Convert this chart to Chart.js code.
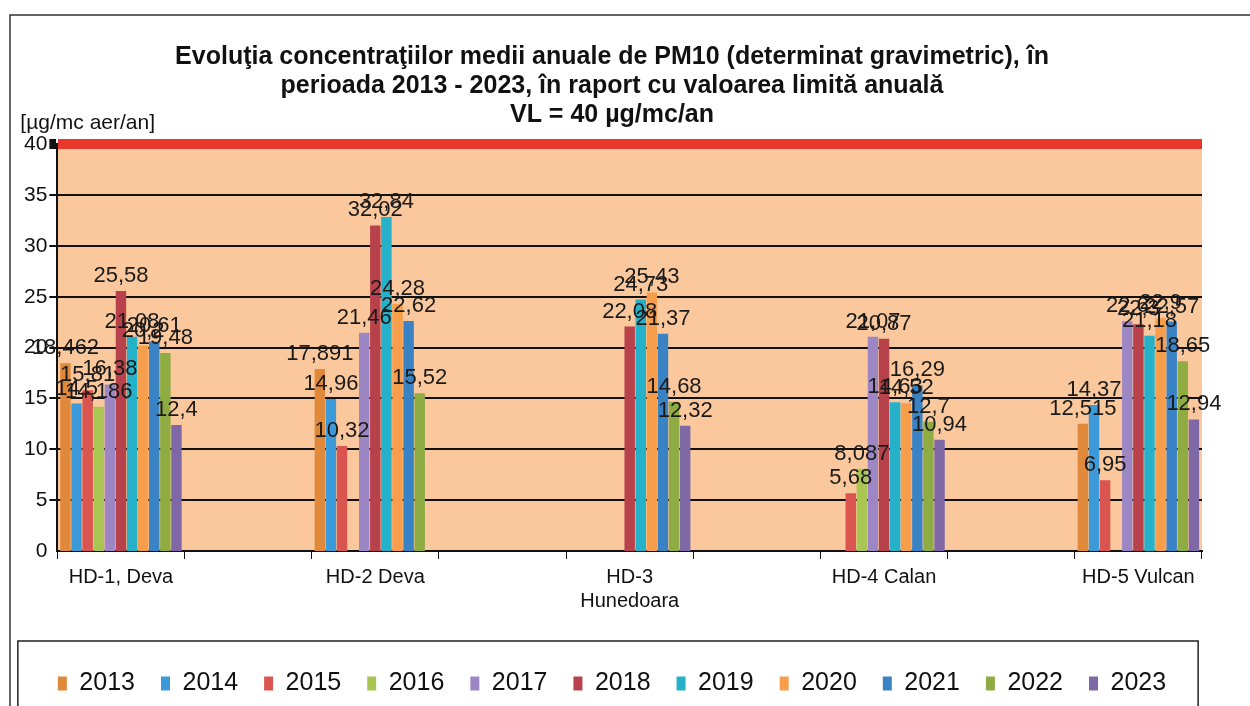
<!DOCTYPE html>
<html>
<head>
<meta charset="utf-8">
<script src="https://cdn.jsdelivr.net/npm/chart.js@4.4.1/dist/chart.umd.min.js"></script>
<style>
  html, body { margin: 0; padding: 0; background: #fff; }
  #wrap { width: 1250px; height: 706px; }
</style>
</head>
<body>
<div id="wrap"><canvas id="pm10" width="1250" height="706"></canvas></div>
<script>
// statii de monitorizare
const stations = ['HD-1, Deva', 'HD-2 Deva', ['HD-3', 'Hunedoara'], 'HD-4 Calan', 'HD-5 Vulcan'];
const years = ['2013', '2014', '2015', '2016', '2017', '2018', '2019', '2020', '2021', '2022', '2023'];

// medii anuale PM10, ug/mc (null = fara date)
const v2013 = [18.462, 17.891, null, null, 12.515];
const v2014 = [14.5, 14.96, null, null, 14.37];
const v2015 = [15.81, 10.32, null, 5.68, 6.95];
const v2016 = [14.186, null, null, 8.087, null];
const v2017 = [16.38, 21.46, null, 21.07, 22.6];
const v2018 = [25.58, 32.02, 22.08, 20.87, 22.3];
const v2019 = [21.08, 32.84, 24.73, 14.63, 21.18];
const v2020 = [20.2, 24.28, 25.43, 14.52, 22.9];
const v2021 = [20.61, 22.62, 21.37, 16.29, 22.57];
const v2022 = [19.48, 15.52, 14.68, 12.7, 18.65];
const v2023 = [12.4, null, 12.32, 10.94, 12.94];

const yTicks = [0, 5, 10, 15, 20, 25, 30, 35, 40];
const limitValue = 40;

const yearColors = ['#E0893B', '#3D9AD8', '#DA5450', '#A8C651', '#9C87C4', '#B8424B',
                    '#26B1CA', '#F69E4B', '#3982C3', '#8EAC42', '#7E69A6'];
const series = [v2013, v2014, v2015, v2016, v2017, v2018, v2019, v2020, v2021, v2022, v2023];

const FONT = 'Liberation Sans, Arial, sans-serif';

// categorii goale intre statii, ca in graficul original
function spread(arr, blank) {
    const out = [];
    arr.forEach((v, i) => {
        if (i > 0) out.push(blank);
        out.push(v);
    });
    return out;
}

const labels = spread(stations, '');

const datasets = years.map((y, i) => {
    return {
        label: y,
        data: spread(series[i], null),
        backgroundColor: yearColors[i],
        borderWidth: 0,
        barPercentage: 0.94,
        categoryPercentage: 0.96
    };
});

const bgPlugin = {
    id: 'plotBg',
    beforeDraw(chart) {
        const ctx = chart.ctx;
        const a = chart.chartArea;
        ctx.save();
        ctx.fillStyle = '#fff';
        ctx.fillRect(0, 0, chart.width, chart.height);
        ctx.fillStyle = '#FAC89C';
        ctx.fillRect(a.left, a.top, a.right - a.left, a.bottom - a.top);
        ctx.restore();
    },
    afterDraw(chart) {
        const ctx = chart.ctx;
        const a = chart.chartArea;
        ctx.save();
        // chenar exterior
        ctx.strokeStyle = '#333';
        ctx.lineWidth = 1.5;
        ctx.strokeRect(10, 15, chart.width + 20, chart.height + 20);
        // unitatea de masura
        ctx.fillStyle = '#111';
        ctx.font = '21px ' + FONT;
        ctx.textAlign = 'left';
        ctx.textBaseline = 'alphabetic';
        ctx.fillText('[µg/mc aer/an]', a.left - 37, a.top - 15);
        // chenar legenda
        const boxes = chart.legend.legendHitBoxes;
        if (boxes && boxes.length) {
            const first = boxes[0];
            const last = boxes[boxes.length - 1];
            ctx.strokeStyle = '#222';
            ctx.lineWidth = 1.5;
            ctx.strokeRect(first.left - 40, first.top - 30, last.left + last.width - first.left + 72, 95);
        }
        ctx.restore();
    }
};

const valueLabels = {
    id: 'valueLabels',
    afterDatasetsDraw(chart) {
        const ctx = chart.ctx;
        ctx.save();
        ctx.font = '22px ' + FONT;
        ctx.fillStyle = '#1a1a1a';
        ctx.textAlign = 'center';
        ctx.textBaseline = 'bottom';
        chart.data.datasets.forEach((ds, di) => {
            const meta = chart.getDatasetMeta(di);
            meta.data.forEach((bar, idx) => {
                const v = ds.data[idx];
                if (v === null || v === undefined) return;
                ctx.fillText(String(v).replace('.', ','), bar.x, bar.y - 4);
            });
        });
        ctx.restore();
    }
};

new Chart(document.getElementById('pm10'), {
    type: 'bar',
    data: {
        labels: labels,
        datasets: datasets
    },
    plugins: [bgPlugin, valueLabels],
    options: {
        responsive: false,
        animation: false,
        devicePixelRatio: 1,
        layout: {
            padding: { left: 22, right: 48, top: 30, bottom: 0 }
        },
        plugins: {
            title: {
                display: true,
                text: ['Evoluţia concentraţiilor medii anuale de PM10 (determinat gravimetric), în',
                       'perioada 2013 - 2023, în raport cu valoarea limită anuală',
                       'VL = ' + limitValue + ' µg/mc/an'],
                color: '#111',
                font: { family: FONT, size: 25, weight: 'bold', lineHeight: 1.15 },
                padding: { top: 13, bottom: 15 }
            },
            legend: {
                position: 'bottom',
                labels: {
                    color: '#111',
                    font: { family: FONT, size: 25 },
                    boxWidth: 9,
                    boxHeight: 14,
                    padding: 26
                }
            },
            tooltip: { enabled: false }
        },
        scales: {
            x: {
                afterFit(axis) {
                    axis.height += 26;
                },
                grid: {
                    offset: true,
                    drawOnChartArea: false,
                    color: '#111',
                    tickLength: 8
                },
                border: { color: '#111', width: 2 },
                ticks: {
                    color: '#111',
                    font: { family: FONT, size: 20 },
                    maxRotation: 0,
                    autoSkip: false,
                    padding: 6
                }
            },
            y: {
                min: 0,
                max: 40,
                afterBuildTicks(axis) {
                    axis.ticks = yTicks.map(v => ({ value: v }));
                },
                grid: {
                    color: ctx => (ctx.tick && ctx.tick.value === limitValue) ? '#E8382B' : '#111',
                    lineWidth: ctx => (ctx.tick && ctx.tick.value === limitValue) ? 10 : (ctx.tick && ctx.tick.value === 0 ? 0 : 2),
                    tickColor: '#111',
                    tickLength: 8
                },
                border: { color: '#111', width: 2 },
                ticks: {
                    color: '#111',
                    font: { family: FONT, size: 21 },
                    padding: 2
                }
            }
        }
    }
});
</script>
</body>
</html>
